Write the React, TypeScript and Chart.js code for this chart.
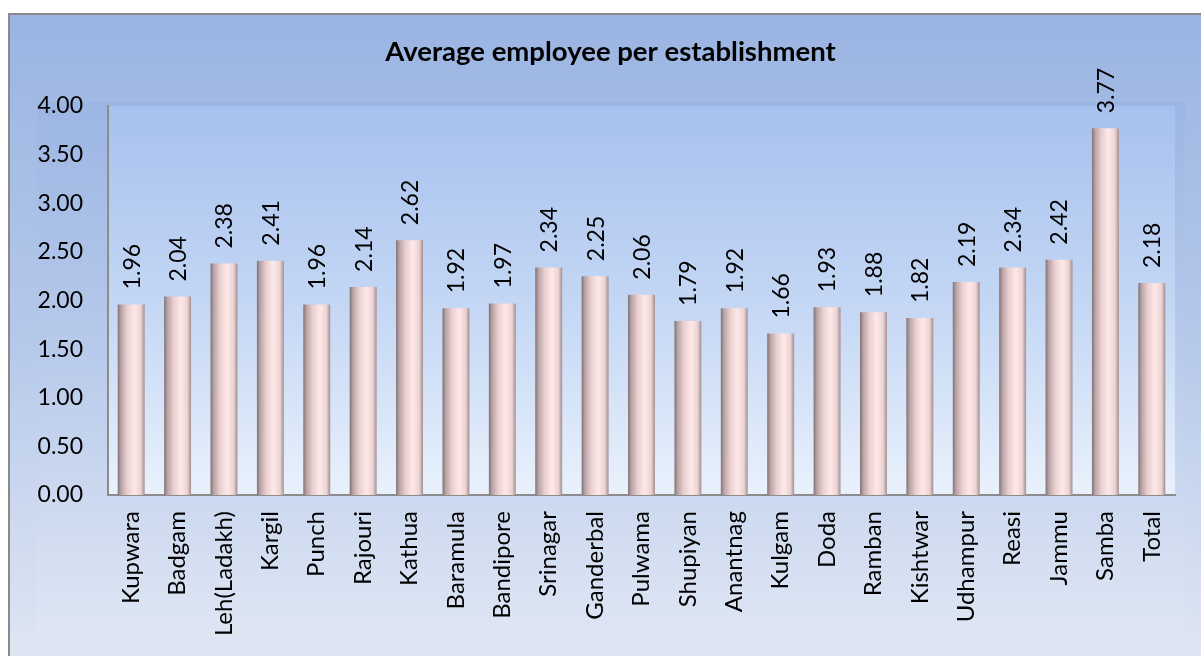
import React, { useEffect, useRef } from "react";
import { Chart, registerables } from "chart.js";

Chart.register(...registerables);

const categories = [
  "Kupwara", "Badgam", "Leh(Ladakh)", "Kargil", "Punch", "Rajouri", "Kathua",
  "Baramula", "Bandipore", "Srinagar", "Ganderbal", "Pulwama", "Shupiyan",
  "Anantnag", "Kulgam", "Doda", "Ramban", "Kishtwar", "Udhampur", "Reasi",
  "Jammu", "Samba", "Total",
];
const averageEmployees = [
  1.96, 2.04, 2.38, 2.41, 1.96, 2.14, 2.62, 1.92, 1.97, 2.34, 2.25, 2.06, 1.79,
  1.92, 1.66, 1.93, 1.88, 1.82, 2.19, 2.34, 2.42, 3.77, 2.18,
];
const yMin = 0;
const yMax = 4;
const yStep = 0.5;
const titleText = "Average employee per establishment";

const FONT = "Lato";
const BAR_PCT = 0.58;

const backgroundPlugin = {
  id: "bgPlugin",
  afterLayout(chart: any) {
    const tb = chart.titleBlock;
    if (tb) {
      tb.left += 23;
      tb.right += 23;
    }
  },
  beforeDraw(chart: any) {
    const { ctx, width, height, chartArea } = chart;
    ctx.save();
    ctx.fillStyle = "#ffffff";
    ctx.fillRect(0, 0, width, height);
    const g = ctx.createLinearGradient(0, 13, 0, height);
    g.addColorStop(0, "#9ab4e2");
    g.addColorStop(0.5, "#b5c8ea");
    g.addColorStop(1, "#dfe6f3");
    ctx.fillStyle = g;
    ctx.fillRect(9, 14, width - 9, height - 14);
    ctx.strokeStyle = "#8a8a8a";
    ctx.lineWidth = 2;
    ctx.beginPath();
    ctx.moveTo(9, height);
    ctx.lineTo(9, 14);
    ctx.lineTo(width, 14);
    ctx.stroke();
    const g2 = ctx.createLinearGradient(0, 102, 0, 637);
    g2.addColorStop(0, "rgba(150,178,226,0.5)");
    g2.addColorStop(1, "rgba(225,232,245,0.5)");
    ctx.fillStyle = g2;
    ctx.fillRect(37, 102, 1185 - 37, 637 - 102);
    if (chartArea) {
      const g3 = ctx.createLinearGradient(0, chartArea.top, 0, chartArea.bottom);
      g3.addColorStop(0, "#a7c1ee");
      g3.addColorStop(0.5, "#c3d6f4");
      g3.addColorStop(1, "#e9f1fc");
      ctx.fillStyle = g3;
      ctx.fillRect(chartArea.left, chartArea.top, chartArea.right - chartArea.left, chartArea.bottom - chartArea.top);
    }
    ctx.restore();
  },
};

const valueLabelPlugin = {
  id: "valueLabels",
  afterDatasetsDraw(chart: any) {
    const { ctx } = chart;
    const meta = chart.getDatasetMeta(0);
    const data = chart.data.datasets[0].data as number[];
    ctx.save();
    ctx.fillStyle = "#000000";
    ctx.font = `23px ${FONT}`;
    ctx.textAlign = "left";
    ctx.textBaseline = "middle";
    meta.data.forEach((el: any, i: number) => {
      ctx.save();
      ctx.translate(el.x + 1, el.y - 15);
      ctx.rotate(-Math.PI / 2);
      ctx.fillText(Number(data[i]).toFixed(2), 0, 0);
      ctx.restore();
    });
    ctx.restore();
  },
};

function barGradient(c: any) {
  const chart = c.chart;
  const xs = chart.scales && chart.scales.x;
  if (!xs || !chart.chartArea) return "#f0d6d6";
  const cx = xs.getPixelForValue(c.dataIndex);
  const w = (xs.width / categories.length) * BAR_PCT;
  const x0 = cx - w / 2;
  const g = chart.ctx.createLinearGradient(x0, 0, x0 + w, 0);
  g.addColorStop(0, "#7e7174");
  g.addColorStop(0.12, "#b9a3a5");
  g.addColorStop(0.35, "#eacfd0");
  g.addColorStop(0.62, "#fee9e8");
  g.addColorStop(0.86, "#ecd3d3");
  g.addColorStop(1, "#a08e90");
  return g;
}

export default function App() {
  const ref = useRef<HTMLCanvasElement | null>(null);
  useEffect(() => {
    if (!ref.current) return;
    const chart = new Chart(ref.current, {
      type: "bar",
      data: {
        labels: categories,
        datasets: [
          {
            data: averageEmployees,
            backgroundColor: barGradient as any,
            borderWidth: 0,
            barPercentage: BAR_PCT,
            categoryPercentage: 1,
          },
        ],
      },
      options: {
        animation: false,
        responsive: true,
        maintainAspectRatio: false,
        layout: { padding: { left: 0, right: 26, top: 0, bottom: 0 } },
        plugins: {
          legend: { display: false },
          tooltip: { enabled: false },
          title: {
            display: true,
            text: titleText,
            color: "#000000",
            font: { family: FONT, size: 27.5, weight: "bold" },
            padding: { top: 36, bottom: 37 },
          },
        },
        scales: {
          x: {
            grid: { display: false, drawTicks: false },
            border: { display: true, color: "#8c8c8c", width: 2 },
            ticks: {
              color: "#000000",
              font: { family: FONT, size: 24 },
              minRotation: 90,
              maxRotation: 90,
              autoSkip: false,
              padding: 16,
            },
            afterFit(scale: any) {
              scale.height = 161;
            },
          },
          y: {
            min: yMin,
            max: yMax,
            grid: { display: false, drawTicks: false },
            border: { display: true, color: "#8c8c8c", width: 2 },
            ticks: {
              stepSize: yStep,
              color: "#000000",
              font: { family: FONT, size: 23 },
              padding: 25,
              callback: (v: any) => Number(v).toFixed(2),
            },
            afterFit(scale: any) {
              scale.width = 108;
            },
          },
        },
      },
      plugins: [backgroundPlugin, valueLabelPlugin],
    });
    return () => chart.destroy();
  }, []);
  return (
    <div style={{ position: "fixed", left: 0, top: 0, width: 1201, height: 656 }}>
      <canvas ref={ref} />
    </div>
  );
}
